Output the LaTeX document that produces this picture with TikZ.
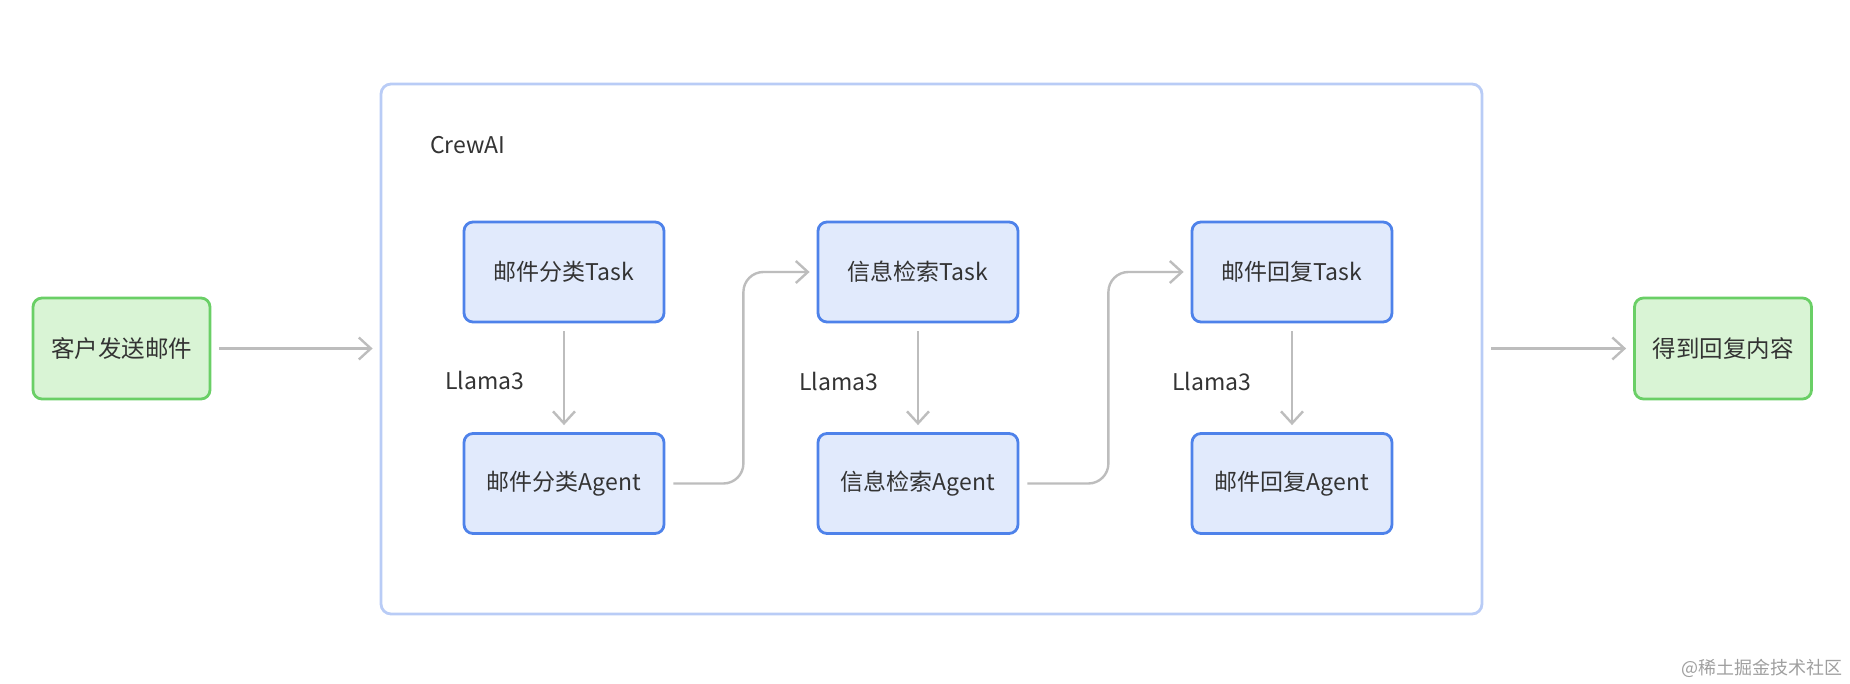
\documentclass[tikz,border=0pt]{standalone}
\usepackage{fontspec}
\setmainfont{Noto Sans CJK SC}
\usetikzlibrary{arrows.meta}
\definecolor{bluefill}{HTML}{E1EAFC}
\definecolor{blueline}{HTML}{4E82EA}
\definecolor{greenfill}{HTML}{D9F4D5}
\definecolor{greenline}{HTML}{6ACF66}
\definecolor{crewline}{HTML}{B9CCF6}
\definecolor{arrowgray}{HTML}{BDBDBD}
\definecolor{txt}{HTML}{333333}
\tikzset{
  bluebox/.style={draw=blueline, fill=bluefill, line width=2.8pt, rounded corners=9pt,
    minimum width=200pt, minimum height=100pt, inner sep=0pt, text=txt, font=\fontsize{23}{28}\selectfont},
  greenbox/.style={draw=greenline, fill=greenfill, line width=2.8pt, rounded corners=9pt,
    minimum width=177pt, minimum height=101pt, inner sep=0pt, text=txt, font=\fontsize{23.5}{28}\selectfont},
  crewbox/.style={draw=crewline, fill=white, line width=2.8pt, rounded corners=10pt,
    minimum width=1101pt, minimum height=530pt, inner sep=0pt},
  conn/.style={draw=arrowgray, line width=2.4pt, -{Straight Barb[length=12pt,width=22pt,line width=2.4pt]},
    shorten <=8pt, shorten >=7pt},
  lbl/.style={text=txt, font=\fontsize{23}{28}\selectfont, inner sep=0pt, anchor=west}
}
\begin{document}
\begin{tikzpicture}[x=1pt,y=-1pt]
\useasboundingbox (0,0) rectangle (1850,684);
\node[crewbox] (crew) at (931.5,349) {};
\node[lbl] (crewlbl) at (430,145) {CrewAI};
\node[greenbox] (g1) at (121.5,348.5) {客户发送邮件};
\node[greenbox] (g2) at (1723,348.5) {得到回复内容};
\node[bluebox] (t1) at (564,272) {邮件分类Task};
\node[bluebox] (a1) at (564,483.5) {邮件分类Agent};
\node[bluebox] (t2) at (918,272) {信息检索Task};
\node[bluebox] (a2) at (918,483.5) {信息检索Agent};
\node[bluebox] (t3) at (1292,272) {邮件回复Task};
\node[bluebox] (a3) at (1292,483.5) {邮件回复Agent};
\node[lbl] (l1) at (445,380) {Llama3};
\node[lbl] (l2) at (799,381) {Llama3};
\node[lbl] (l3) at (1172,381) {Llama3};
\node[text=gray!75, font=\fontsize{18}{22}\selectfont, inner sep=0pt, anchor=east] (wm) at (1843,668) {@稀土掘金技术社区};
\draw[conn] (g1.east) -- (crew.west |- g1.east);
\draw[conn] (crew.east |- g2.west) -- (g2.west);
\draw[conn] (t1) -- (a1);
\draw[conn] (t2) -- (a2);
\draw[conn] (t3) -- (a3);
\draw[conn, rounded corners=20pt] (a1.east) -- ++(78,0) |- (t2.west);
\draw[conn, rounded corners=20pt] (a2.east) -- ++(89,0) |- (t3.west);
\end{tikzpicture}
\end{document}
